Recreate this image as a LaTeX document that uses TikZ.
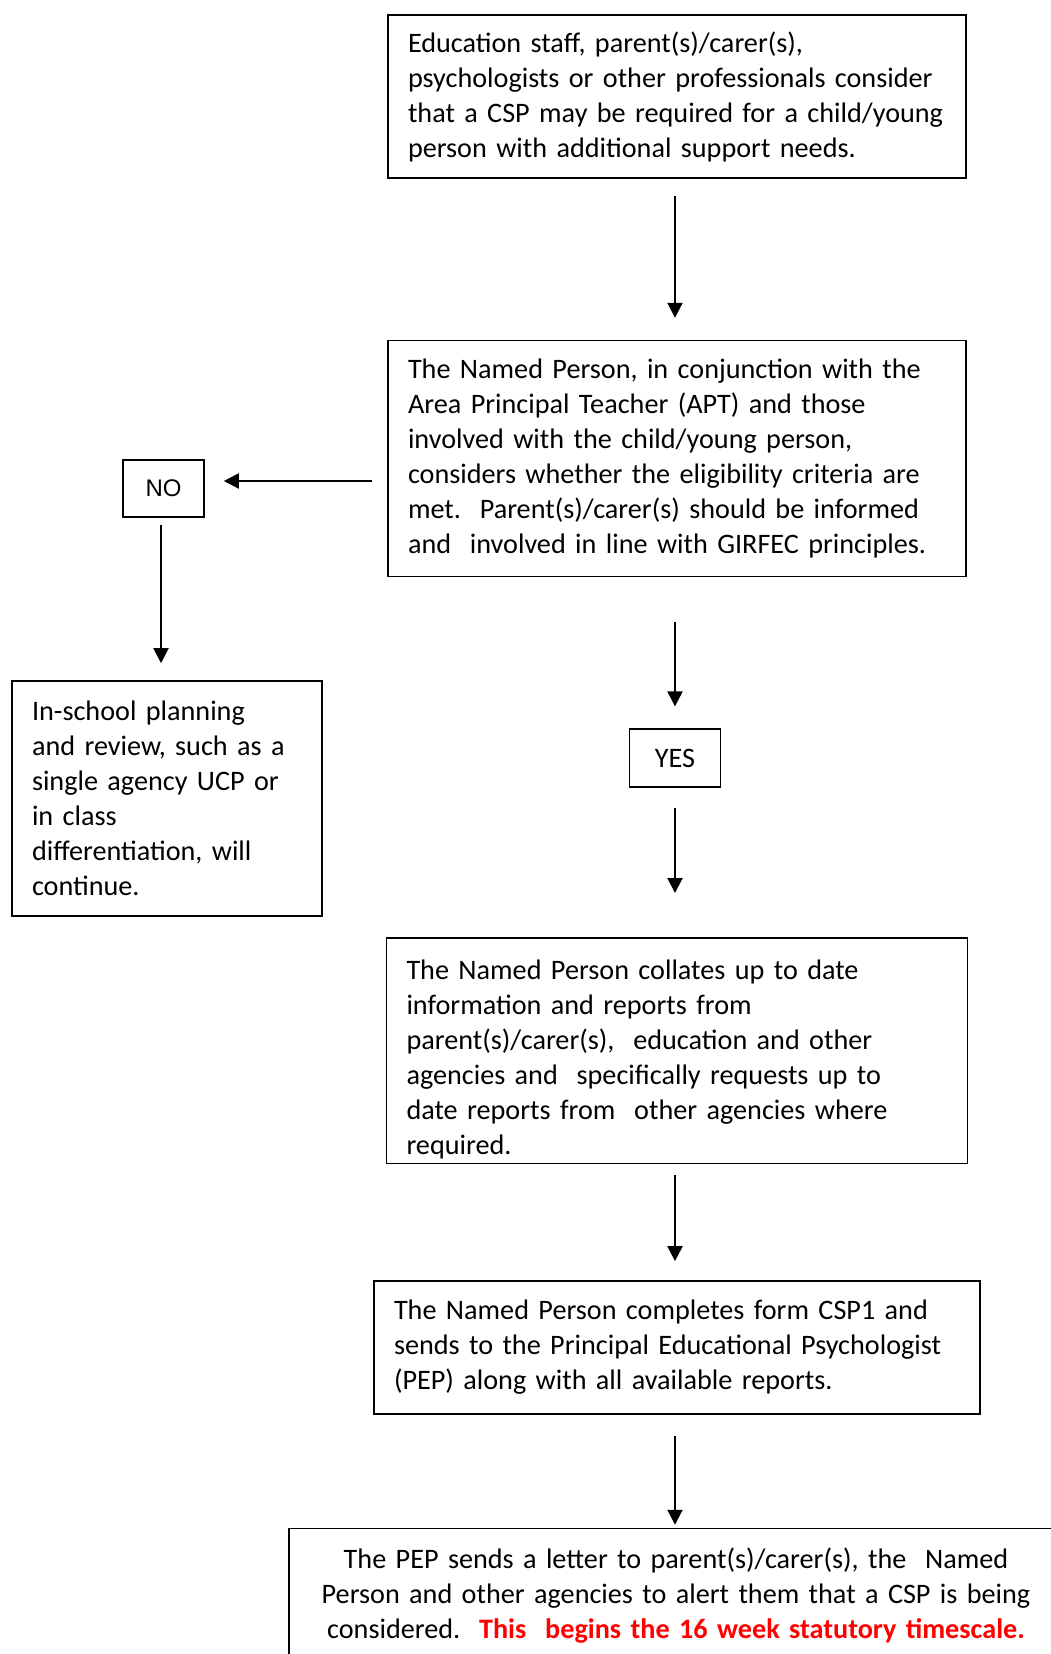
\documentclass[tikz,border=0pt]{standalone}
\usepackage{fontspec}
\setmainfont{Carlito}
\newfontfamily\arialfont{Liberation Sans}
\usepackage{xcolor}
\definecolor{lineBlack}{HTML}{000000}
\definecolor{alertRed}{HTML}{FF0000}
\usepackage{tikz}
\usetikzlibrary{
    arrows.meta,
    positioning
}
\tikzset{
    % Base style for all boxes
    flow base/.style={
        font=\fontsize{28.2}{35}\selectfont,
        rectangle,
        draw=lineBlack,
        line width=1.6pt,
        inner xsep=20pt,
        inner ysep=4pt,
        align=left,
        text=lineBlack,
    },
    % Text boxes of the main column
    process/.style={
        flow base,
        text width=#1,
    },
    % Small answer boxes
    answer/.style={
        flow base,
        align=center,
        inner xsep=0pt,
    },
    % Plain arrow with a solid triangle tip
    arrow/.style={
        -{Triangle[length=15pt, width=15pt]},
        line width=2pt,
        draw=lineBlack,
    },
}

\begin{document}
\begin{tikzpicture}[x=1pt, y=1pt]
    \useasboundingbox (0,0) rectangle (1051,-1654);
    \clip (0,0) rectangle (1051,-1654);

    \node (consider) [process=538pt, minimum height=163pt] at (677,-96.5)
        {Education staff, parent(s)/carer(s),\\
         psychologists or other professionals consider\\
         that a CSP may be required for a child/young\\
         person with additional support needs.};
    \node (criteria) [process=538pt, minimum height=236pt, below=161pt of consider]
        {The Named Person, in conjunction with the\\
         Area Principal Teacher (APT) and those\\
         involved with the child/young person,\\
         considers whether the eligibility criteria are\\
         met.\ \ Parent(s)/carer(s) should be informed\\
         and\ \ involved in line with GIRFEC principles.};
    \node (yes) [answer, minimum width=91pt, minimum height=58pt, below=151pt of criteria, xshift=-2pt] {YES};
    \node (collate) [process=541pt, minimum height=225pt, below=149pt of yes, xshift=2pt]
        {\rule{0pt}{38pt}The Named Person collates up to date\\
         information and reports from\\
         parent(s)/carer(s),\ \ education and other\\
         agencies and\ \ specifically requests up to\\
         date reports from\ \ other agencies where\\
         required.};
    \node (csp1) [process=566pt, minimum height=133pt, below=116pt of collate]
        {The Named Person completes form CSP1 and\\
         sends to the Principal Educational Psychologist\\
         (PEP) along with all available reports.};
    \node (letter) [process=760pt, align=center, inner xsep=7pt, minimum height=134pt, below=113pt of csp1, xshift=-1pt]
        {The PEP sends a letter to parent(s)/carer(s), the\ \ Named\\
         Person and other agencies to alert\ them that a CSP is being\\
         considered.\ \ {\color{alertRed}\bfseries This\ \ begins the 16 week statutory timescale.}};

    % NO branch on the left
    \node (no) [answer, font=\arialfont\fontsize{24}{28}\selectfont, minimum width=81pt, minimum height=57pt] at (163.5,-488.5) {NO};
    \node (inschool) [process=270pt, minimum height=235pt] at (167,-798.5)
        {In-school planning\\
         and review, such as a\\
         single agency UCP or\\
         in class\\
         differentiation, will\\
         continue.};
    \coordinate (no tip) at ([yshift=7.5pt]no.east);

    \draw [arrow, shorten <=17pt, shorten >=22pt] ([xshift=-2pt]consider.south) -- ([xshift=-2pt]consider.south |- criteria.north);
    \draw [arrow, shorten <=45pt, shorten >=22pt] ([xshift=-2pt]criteria.south) -- ([xshift=-2pt]criteria.south |- yes.north);
    \draw [arrow, shorten <=20pt, shorten >=44pt] (yes) -- (yes |- collate.north);
    \draw [arrow, shorten <=11pt, shorten >=19pt] ([xshift=-2pt]collate.south) -- ([xshift=-2pt]collate.south |- csp1.north);
    \draw [arrow, shorten <=21pt, shorten >=3pt] ([xshift=-2pt]csp1.south) -- ([xshift=-2pt]csp1.south |- letter.north);
    \draw [arrow, shorten <=15pt, shorten >=19pt] (no tip -| criteria.west) -- (no tip);
    \draw [arrow, shorten <=7pt, shorten >=17pt] ([xshift=-2.5pt]no.south) -- ([xshift=-2.5pt]no.south |- inschool.north);
\end{tikzpicture}
\end{document}
